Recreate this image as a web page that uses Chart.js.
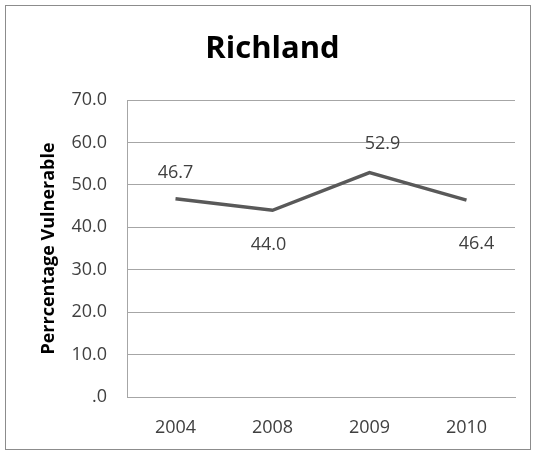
<!DOCTYPE html>
<html>
<head>
<meta charset="utf-8">
<script src="https://cdn.jsdelivr.net/npm/chart.js@4"></script>
<style>
    html, body { margin: 0; padding: 0; background: #fff; }
    #wrap { position: relative; width: 533px; height: 453px; }
</style>
</head>
<body>
<div id="wrap"><canvas id="richlandChart"></canvas></div>
<script>
const years = ['2004', '2008', '2009', '2010'];
const vulnerable = [46.7, 44.0, 52.9, 46.4];
const yTicks = [0, 10, 20, 30, 40, 50, 60, 70];

// label offsets from each point (dx, dy), as placed in the original
const labelOffsets = [[0, -26], [-4, 35], [13, -29], [10, 44]];

const frame = {
    id: 'frame',
    beforeDraw(chart) {
        const ctx = chart.ctx;
        ctx.save();
        ctx.fillStyle = '#fff';
        ctx.fillRect(0, 0, chart.width, chart.height);
        ctx.strokeStyle = '#8c8c8c';
        ctx.lineWidth = 1;
        ctx.strokeRect(5.5, 5.5, 525, 444);
        ctx.restore();
    }
};

const pointLabels = {
    id: 'pointLabels',
    afterDatasetsDraw(chart) {
        const ctx = chart.ctx;
        const meta = chart.getDatasetMeta(0);
        ctx.save();
        ctx.font = '18px "Open Sans", sans-serif';
        ctx.fillStyle = '#404040';
        ctx.textAlign = 'center';
        ctx.textBaseline = 'middle';
        meta.data.forEach(function(pt, i) {
            const off = labelOffsets[i];
            ctx.fillText(vulnerable[i].toFixed(1), pt.x + off[0], pt.y + off[1]);
        });
        ctx.restore();
    }
};

const ctx = document.getElementById('richlandChart').getContext('2d');
new Chart(ctx, {
    type: 'line',
    data: {
        labels: years,
        datasets: [{
            label: 'Richland',
            data: vulnerable,
            borderColor: '#595959',
            borderWidth: 3.5,
            pointRadius: 0,
            tension: 0
        }]
    },
    options: {
        responsive: true,
        maintainAspectRatio: false,
        animation: false,
        layout: {
            padding: { top: 24, left: 30, right: 18, bottom: 0 }
        },
        plugins: {
            legend: { display: false },
            tooltip: { enabled: false },
            title: {
                display: true,
                text: 'Richland',
                color: '#000',
                font: { family: '"Open Sans", sans-serif', size: 31, weight: 'bold' },
                padding: { top: 7, bottom: 31.8 }
            }
        },
        scales: {
            x: {
                offset: true,
                grid: { display: false, drawTicks: false },
                border: { display: true, color: '#a6a6a6' },
                ticks: {
                    color: '#404040',
                    font: { family: '"Open Sans", sans-serif', size: 18 },
                    padding: 20,
                    maxRotation: 0
                },
                afterFit(scale) { scale.height = 56; }
            },
            y: {
                min: 0,
                max: 70,
                afterBuildTicks(scale) {
                    scale.ticks = yTicks.map(function(v) { return { value: v }; });
                },
                grid: { color: '#a6a6a6', drawTicks: false },
                border: { display: true, color: '#a6a6a6' },
                ticks: {
                    color: '#404040',
                    font: { family: '"Open Sans", sans-serif', size: 18 },
                    padding: 20,
                    callback: function(v) { return v === 0 ? '.0' : v.toFixed(1); }
                },
                title: {
                    display: true,
                    text: 'Perrcentage Vulnerable',
                    color: '#000',
                    font: { family: '"Open Sans", sans-serif', size: 18, weight: 'bold' },
                    padding: { top: 8, bottom: 0 }
                },
                afterFit(scale) { scale.width = 97; }
            }
        }
    },
    plugins: [frame, pointLabels]
});
</script>
</body>
</html>
